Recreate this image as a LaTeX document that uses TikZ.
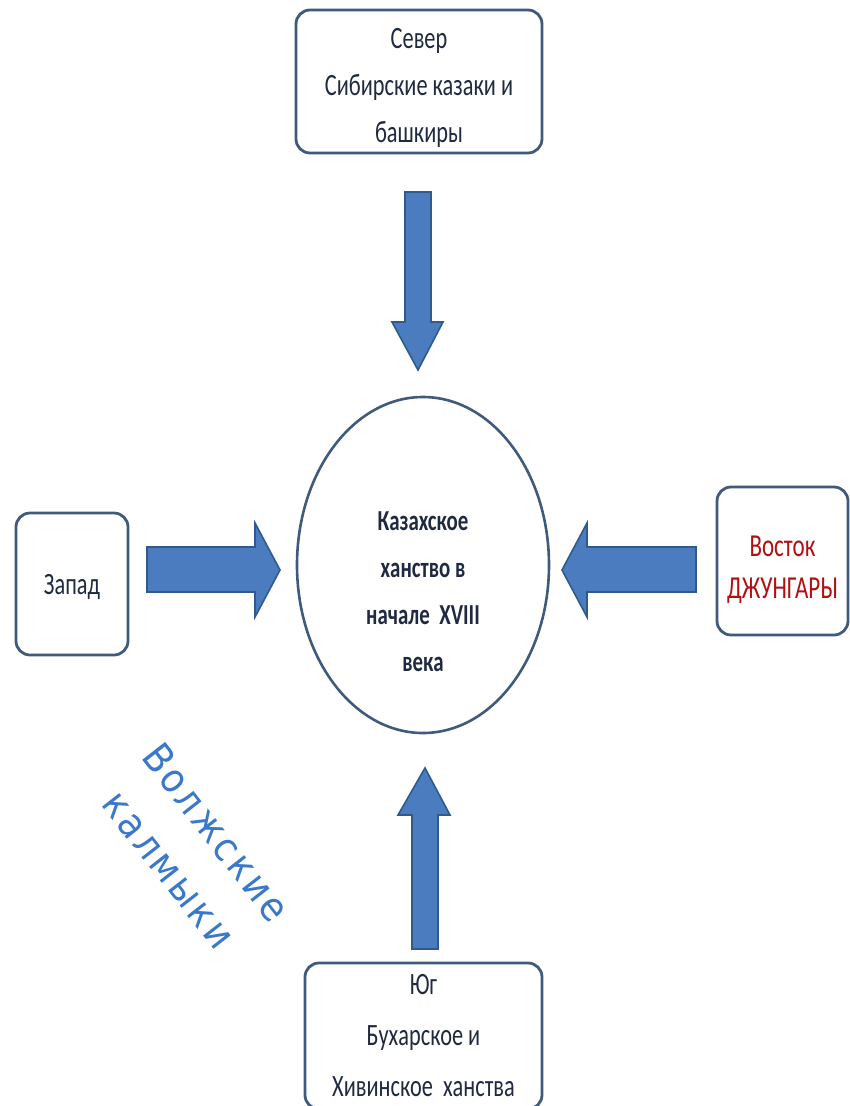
\documentclass[tikz,border=0pt]{standalone}
\usepackage{fontspec}
\setmainfont{Carlito}[FakeStretch=0.72]
\newfontfamily\volgafont{DejaVu Sans}[LetterSpace=8,FakeStretch=0.9]
\usetikzlibrary{shapes.geometric}

\definecolor{boxline}{HTML}{3F5A7A}
\definecolor{boxtext}{HTML}{1F2A40}
\definecolor{arrowfill}{HTML}{4A7CBF}
\definecolor{arrowline}{HTML}{2E5A8C}
\definecolor{eastred}{HTML}{B01010}
\definecolor{volgablue}{HTML}{3A78C9}

\begin{document}
\begin{tikzpicture}[x=1pt,y=-1pt]

  \tikzstyle{side} = [rectangle,rounded corners=14pt,draw = boxline,line width=2.8pt,fill=white,inner sep=0pt,align=center,text=boxtext,font=\fontsize{31}{47}\selectfont];
  \tikzstyle{centre} = [ellipse,draw = boxline,line width=2.6pt,inner sep=0pt,align=center,text=boxtext,font=\fontsize{29}{47}\selectfont\bfseries];
  \tikzstyle{blockarrow} = [fill = arrowfill,draw = arrowline,line width=1.6pt,line join=miter];

  \useasboundingbox (0,0) rectangle (850,1106);

  \node [centre,minimum width=252pt,minimum height=336pt,text height=213pt,text depth=0pt] (khanate) at (423,565)
        {Казахское\\ханство в\\начале~~XVIII\\века};

  \node [side,minimum width=246pt,minimum height=143pt,text height=122pt,text depth=0pt] (north) at (419,81.5)
        {Север\\Сибирские казаки и\\башкиры};
  \node [side,minimum width=112pt,minimum height=142pt,text depth=0pt] (west) at (72,584) {Запад};
  \node [side,minimum width=131pt,minimum height=148pt,text=eastred,text height=74pt,text depth=0pt,
         font=\fontsize{32}{42}\selectfont] (east) at (782.5,561) {Восток\\ДЖУНГАРЫ};
  \node [side,minimum width=237pt,minimum height=146pt,
         font=\fontsize{31}{51}\selectfont] (south) at (423.5,1036)
        {Юг\\Бухарское и\\Хивинское~~ханства};

  % north -> khanate
  \filldraw[blockarrow] (405,192) -- (431,192) -- (431,322) -- (443,322) -- (418,370)
                        -- (392,322) -- (405,322) -- cycle;
  % south -> khanate
  \filldraw[blockarrow] (412,949) -- (412,815) -- (398,815) -- (425,768) -- (450,815)
                        -- (438,815) -- (438,949) -- cycle;
  % west -> khanate
  \filldraw[blockarrow] (147,547) -- (255,547) -- (255,523) -- (280,570) -- (255,617)
                        -- (255,592) -- (147,592) -- cycle;
  % east -> khanate
  \filldraw[blockarrow] (696,547) -- (587,547) -- (587,523) -- (562,570) -- (587,617)
                        -- (587,592) -- (696,592) -- cycle;

  \node [rotate=-52,align=center,text=volgablue,font=\fontsize{40}{60}\selectfont\volgafont]
        (volga) at (193,851) {Волжские\\калмыки};

\end{tikzpicture}
\end{document}
